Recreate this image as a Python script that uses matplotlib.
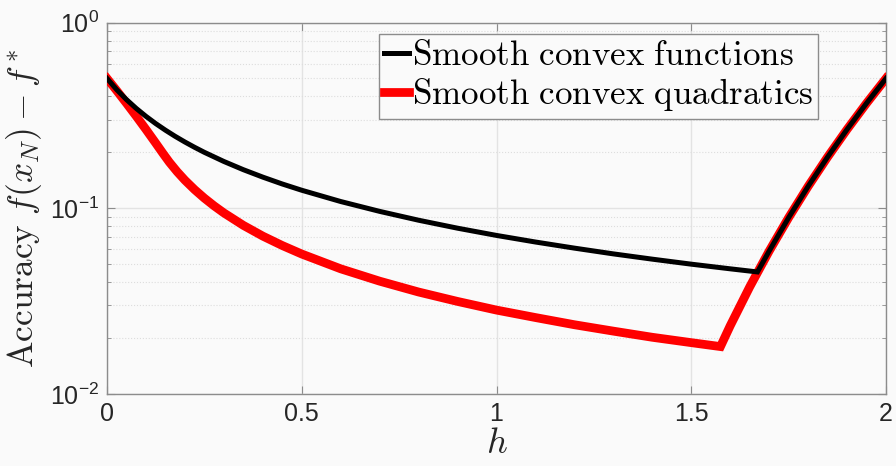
import numpy as np
import matplotlib
matplotlib.use("Agg")
import matplotlib.pyplot as plt
from matplotlib.ticker import LogLocator, NullFormatter, FixedLocator

# step size h and worst-case accuracy values
h_func = [0.0, 0.025, 0.05, 0.075, 0.1, 0.125, 0.15, 0.175, 0.2, 0.225, 0.25, 0.3, 0.35,
          0.4, 0.45, 0.5, 0.6, 0.7, 0.8, 0.9, 1.0, 1.1, 1.2, 1.3, 1.4, 1.5, 1.6, 1.67,
          1.7, 1.75, 1.8, 1.85, 1.9, 1.95, 2.0]
acc_func = [0.5, 0.4348, 0.3846, 0.3448, 0.3125, 0.2857, 0.2632, 0.2439, 0.2273, 0.2128,
            0.2, 0.1786, 0.1613, 0.1471, 0.1351, 0.125, 0.1087, 0.0962, 0.0862, 0.0781,
            0.0714, 0.0658, 0.0610, 0.0568, 0.0532, 0.05, 0.0472, 0.0454, 0.0588, 0.0890,
            0.1311, 0.1886, 0.2657, 0.3675, 0.5]

h_quad = [0.0, 0.025, 0.05, 0.075, 0.1, 0.125, 0.143, 0.16, 0.18, 0.2, 0.225, 0.25, 0.275,
          0.3, 0.35, 0.4, 0.45, 0.5, 0.6, 0.7, 0.8, 0.9, 1.0, 1.1, 1.2, 1.3, 1.4, 1.5,
          1.575, 1.6, 1.65, 1.7, 1.75, 1.8, 1.85, 1.9, 1.95, 2.0]
acc_quad = [0.5, 0.4296, 0.3675, 0.3132, 0.2657, 0.2244, 0.1983, 0.1771, 0.1574, 0.1416,
            0.1259, 0.1133, 0.1030, 0.0944, 0.0809, 0.0708, 0.0630, 0.0567, 0.0472, 0.0405,
            0.0354, 0.0315, 0.0283, 0.0258, 0.0236, 0.0218, 0.0202, 0.0189, 0.0180, 0.0233,
            0.0377, 0.0588, 0.0890, 0.1311, 0.1886, 0.2657, 0.3675, 0.5]

labels = ["Smooth convex functions", "Smooth convex quadratics"]
x_ticks = [0, 0.5, 1, 1.5, 2]
x_ticklabels = ["0", "0.5", "1", "1.5", "2"]

plt.rcParams['font.family'] = ['Liberation Sans', 'DejaVu Sans']
plt.rcParams['mathtext.fontset'] = 'custom'
plt.rcParams['mathtext.rm'] = 'Liberation Sans'
plt.rcParams['mathtext.it'] = 'Liberation Sans:italic'

bg = '#fafafa'
fig = plt.figure(figsize=(8.96, 4.66), dpi=100, facecolor=bg)
ax = fig.add_axes([107/896, 1-394/466, (886-107)/896, (394-22.5)/466])
ax.set_facecolor(bg)

lq, = ax.plot(h_quad, acc_quad, color='#ff0000', lw=6.3, solid_joinstyle='miter', zorder=3)
lf, = ax.plot(h_func, acc_func, color='black', lw=3.6, solid_joinstyle='miter', zorder=4)

ax.set_yscale('log')
ax.set_xlim(0, 2)
ax.set_ylim(1e-2, 1e0)
ax.xaxis.set_major_locator(FixedLocator(x_ticks))
ax.set_xticklabels(x_ticklabels)
ax.yaxis.set_major_locator(LogLocator(base=10, numticks=5))
ax.yaxis.set_minor_locator(LogLocator(base=10, subs=np.arange(2, 10), numticks=20))
ax.yaxis.set_minor_formatter(NullFormatter())

gcol = '#8c8c8c'
for s in ax.spines.values():
    s.set_color(gcol)
    s.set_linewidth(1.0)
ax.tick_params(which='both', direction='in', top=True, right=True, color=gcol,
               labelsize=18, labelcolor='#262626', pad=6)
ax.tick_params(which='major', length=6)
ax.tick_params(which='minor', length=3)

ax.grid(True, which='major', axis='x', color='#e3e3e3', lw=1.0, ls='-')
ax.grid(True, which='major', axis='y', color='#e3e3e3', lw=1.0, ls='-')
ax.grid(True, which='minor', axis='y', color='#dddddd', lw=0.8, ls=':')
ax.set_axisbelow(True)

xl = ax.set_xlabel(r'$h$', fontsize=26, labelpad=0, color='#262626')
xl.set_math_fontfamily('cm')
yl = ax.set_ylabel(r'$\mathrm{Accuracy}\ f(x_N) - f^*$', fontsize=25.5, labelpad=4, color='#262626')
yl.set_math_fontfamily('cm')

leg = ax.legend([lf, lq], [r'$\mathrm{Smooth\ convex\ functions}$', r'$\mathrm{Smooth\ convex\ quadratics}$'],
                loc='upper right', bbox_to_anchor=(0.913, 0.969), borderaxespad=0,
                fontsize=25.2, handlelength=0.72, handletextpad=0.08, borderpad=0.15,
                labelspacing=0.12, fancybox=False, framealpha=1, edgecolor=gcol, facecolor=bg)
leg.get_frame().set_linewidth(1.0)
for t in leg.get_texts():
    t.set_math_fontfamily('cm')
    t.set_color('black')

fig.savefig('out.png', dpi=100, facecolor=bg)
